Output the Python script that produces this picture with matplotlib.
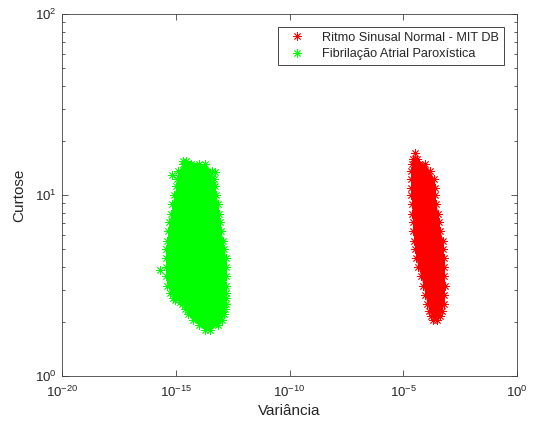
import numpy as np
import matplotlib
matplotlib.use("Agg")
import matplotlib.pyplot as plt
from matplotlib.ticker import LogLocator, NullLocator

plt.rcParams['font.family'] = ['Liberation Sans', 'DejaVu Sans']
plt.rcParams['mathtext.fontset'] = 'custom'
plt.rcParams['mathtext.rm'] = 'Liberation Sans'
plt.rcParams['mathtext.it'] = 'Liberation Sans:italic'
plt.rcParams['axes.unicode_minus'] = False

# Ritmo sinusal normal (MIT DB): kurtosis per row and log10(variance) of the points on that row
red_kurt = [17.0, 15.8, 14.8, 13.5, 12.3, 11.0, 10.0, 8.9, 7.9, 7.1, 6.3,
            5.6, 5.0, 4.5, 4.0, 3.55, 3.16, 2.82, 2.51, 2.29, 2.14, 2.04]
red_var_exp = [
    [-4.48],
    [-4.57, -4.40],
    [-4.62, -4.30, -4.04],
    [-4.66, -4.25, -3.82],
    [-4.66, -4.15, -3.65],
    [-4.66, -4.10, -3.60],
    [-4.66, -4.10, -3.60],
    [-4.62, -4.10, -3.56],
    [-4.62, -4.05, -3.47],
    [-4.57, -4.00, -3.43],
    [-4.57, -4.00, -3.38],
    [-4.53, -3.90, -3.25],
    [-4.48, -3.85, -3.25],
    [-4.44, -3.80, -3.21],
    [-4.35, -3.80, -3.21],
    [-4.22, -3.70, -3.21],
    [-4.13, -3.65, -3.16],
    [-4.04, -3.60, -3.21],
    [-3.96, -3.55, -3.21],
    [-3.87, -3.55, -3.30],
    [-3.78, -3.38],
    [-3.69, -3.51],
]

# Fibrilacao atrial paroxistica
green_kurt = [15.5, 14.8, 13.5, 12.3, 11.2, 10.0, 8.9, 7.9, 7.1, 6.3, 5.6, 5.0,
              4.5, 4.0, 3.55, 3.16, 2.88, 2.69, 2.51, 2.34, 2.19, 2.04, 1.91, 1.80]
green_var_exp = [
    [-14.68, -14.55],
    [-14.68, -14.35, -14.00, -13.71],
    [-14.90, -14.50, -14.10, -13.75, -13.41],
    [-14.95, -14.55, -14.15, -13.70, -13.32],
    [-14.99, -14.60, -14.20, -13.75, -13.28],
    [-15.08, -14.65, -14.20, -13.70, -13.23],
    [-15.16, -14.70, -14.25, -13.70, -13.14],
    [-15.21, -14.75, -14.30, -13.70, -13.10],
    [-15.30, -14.80, -14.30, -13.60, -13.05],
    [-15.34, -14.85, -14.30, -13.70, -13.01],
    [-15.38, -14.90, -14.40, -13.90, -13.40, -12.92],
    [-15.43, -14.90, -14.40, -13.90, -13.40, -12.88],
    [-15.43, -14.90, -14.40, -13.85, -13.30, -12.79],
    [-15.43, -14.95, -14.40, -13.85, -13.30, -12.79],
    [-15.43, -14.90, -14.40, -13.85, -13.30, -12.79],
    [-15.38, -14.85, -14.35, -13.80, -13.30, -12.79],
    [-15.25, -14.75, -14.25, -13.75, -13.25, -12.79],
    [-15.12, -14.60, -14.10, -13.60, -13.20, -12.79],
    [-14.73, -14.20, -13.75, -13.25, -12.79],
    [-14.59, -14.10, -13.70, -13.25, -12.84],
    [-14.46, -14.00, -13.60, -13.20, -12.88],
    [-14.24, -13.80, -13.40, -12.97],
    [-13.98, -13.55, -13.14],
    [-13.71, -13.49],
]
green_stray_kurt = [12.9, 13.4, 3.85, 2.63, 2.57]
green_stray_var_exp = [-15.16, -13.28, -15.69, -15.03, -14.81]

RED = '#ff0000'
GREEN = '#00ff00'
TXT = '#262626'
AX = '#404040'
STAR = (8, 2, 0)


def flatten(kurt, rows):
    xs, ys = [], []
    for k, row in zip(kurt, rows):
        for e in row:
            xs.append(10.0 ** e)
            ys.append(k)
    return np.array(xs), np.array(ys)


fig = plt.figure(figsize=(5.41, 4.25), dpi=100)
ax = fig.add_axes([62 / 541, 1 - 376 / 425, (517 - 62) / 541, (376 - 14) / 425])
ax.set_xscale('log')
ax.set_yscale('log')

# solid body of each cloud (row extents), markers on top
for kurt, rows, col in [(red_kurt, red_var_exp, RED), (green_kurt, green_var_exp, GREEN)]:
    left = [10.0 ** min(r) for r in rows]
    right = [10.0 ** max(r) for r in rows]
    ax.fill_betweenx(kurt, left, right, color=col, linewidth=0)

rx, ry = flatten(red_kurt, red_var_exp)
gx, gy = flatten(green_kurt, green_var_exp)
gx = np.concatenate([gx, 10.0 ** np.array(green_stray_var_exp)])
gy = np.concatenate([gy, green_stray_kurt])

ax.plot(rx, ry, linestyle='none', marker=STAR, ms=6, mew=0.6, color=RED,
        label='Ritmo Sinusal Normal - MIT DB')
ax.plot(gx, gy, linestyle='none', marker=STAR, ms=6, mew=0.6, color=GREEN,
        label='Fibrilação Atrial Paroxística')

ax.set_xlim(1e-20, 1e0)
ax.set_ylim(1e0, 1e2)
ax.set_xticks([1e-20, 1e-15, 1e-10, 1e-5, 1e0])
ax.xaxis.set_minor_locator(NullLocator())
ax.yaxis.set_major_locator(LogLocator(base=10, numticks=5))
ax.yaxis.set_minor_locator(LogLocator(base=10, subs=np.arange(2, 10), numticks=20))

ax.tick_params(which='both', direction='in', top=True, right=True, colors=AX,
               labelcolor=TXT, labelsize=9.5, width=0.6)
ax.tick_params(which='major', length=4)
ax.tick_params(which='minor', length=2.2)
ax.tick_params(axis='x', pad=6)
ax.tick_params(axis='y', pad=4)
for s in ax.spines.values():
    s.set_color(AX)
    s.set_linewidth(0.6)

ax.set_xlabel('Variância', fontsize=11, color=TXT, labelpad=3)
ax.set_ylabel('Curtose', fontsize=11, color=TXT, labelpad=6)

leg = ax.legend(loc='upper right', fontsize=9.2, frameon=True, fancybox=False,
                framealpha=1, edgecolor='#262626', borderaxespad=1.0,
                handlelength=2.2, handletextpad=0.9, borderpad=0.4, labelspacing=0.35)
leg.get_frame().set_linewidth(0.6)
for t in leg.get_texts():
    t.set_color(TXT)

fig.savefig('out.png', dpi=100)
